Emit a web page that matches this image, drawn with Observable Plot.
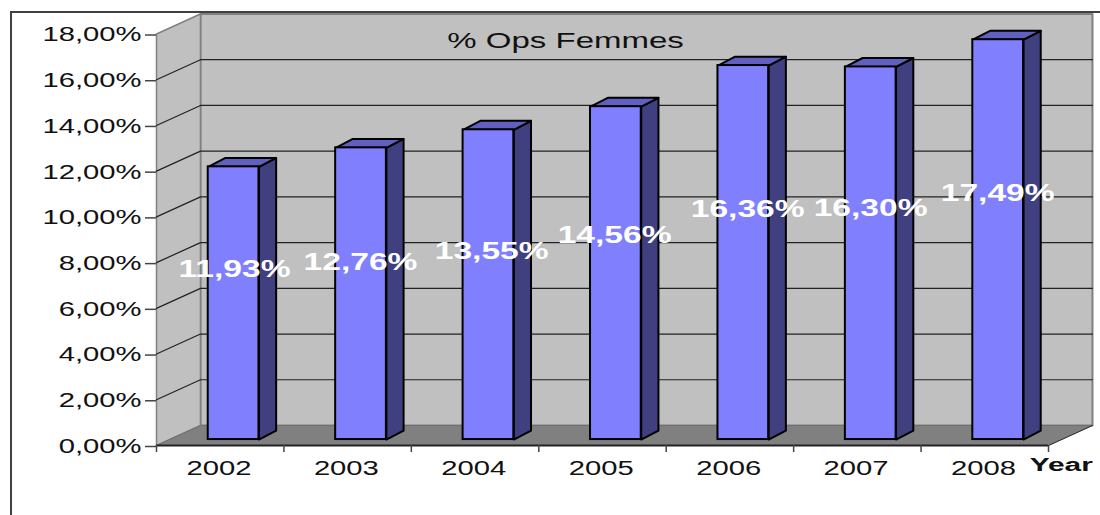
<!DOCTYPE html>
<html>
<head>
<meta charset="utf-8">
<script src="https://cdn.jsdelivr.net/npm/d3@7"></script>
<script src="https://cdn.jsdelivr.net/npm/@observablehq/plot@0.6"></script>
<style>
html,body{margin:0;padding:0;background:#fff;overflow:hidden}
#frame{position:absolute;left:10px;top:11px;right:0;bottom:0;border-left:2px solid #404040;border-top:2px solid #404040}
#chart{position:absolute;left:0;top:0}
#chart svg{background:transparent;display:block}
</style>
</head>
<body>
<div id="frame"></div>
<div id="chart"></div>
<script>
const years = ["2002","2003","2004","2005","2006","2007","2008"];
const values = [11.93,12.76,13.55,14.56,16.36,16.30,17.49];
const valueLabels = ["11,93%","12,76%","13,55%","14,56%","16,36%","16,30%","17,49%"];
const labelX = [0.612,1.601,2.63,3.595,4.639,5.604,6.601];
const labelY = [7.70,8.01,8.49,9.19,10.33,10.37,11.03];
const yTicks = [0,2,4,6,8,10,12,14,16,18];
const xBoundaries = [0,1,2,3,4,5,6,7];

// Depth of the pseudo-3D box, in scale units
const wallDx = 0.345, wallDy = 0.875;
const barLeft = 0.406, barWidth = 0.398, barDx = 0.135, barDy = 0.39, barBase = 0.26;

const poly = (id, pts) => pts.concat([pts[0]]).map(([x, y]) => ({id, x, y}));
const xMax = xBoundaries[xBoundaries.length - 1], yMax = yTicks[yTicks.length - 1];

const leftWall = poly("left", [[0,0],[0,yMax],[wallDx,yMax+wallDy],[wallDx,wallDy]]);
const backWall = poly("back", [[wallDx,wallDy],[wallDx,yMax+wallDy],[xMax+wallDx,yMax+wallDy],[xMax+wallDx,wallDy]]);
const floor = poly("floor", [[0,0],[xMax,0],[xMax+wallDx,wallDy],[wallDx,wallDy]]);
const grid = yTicks.slice(1, -1).flatMap(t => [
  {id:t, x:0, y:t},{id:t, x:wallDx, y:t+wallDy},{id:t, x:xMax+wallDx, y:t+wallDy}
]);

const bars = values.map((v,i) => ({
  x1:i+barLeft, x2:i+barLeft+barWidth, y1:barBase, y2:barBase+v
}));
const sides = bars.flatMap((b,i) => poly("s"+i, [[b.x2,b.y1],[b.x2+barDx,b.y1+barDy],[b.x2+barDx,b.y2+barDy],[b.x2,b.y2]]));
const tops = bars.flatMap((b,i) => poly("t"+i, [[b.x1,b.y2],[b.x2,b.y2],[b.x2+barDx,b.y2+barDy],[b.x1+barDx,b.y2+barDy]]));

const font = "'Liberation Sans', Arial, sans-serif";
const pct = d => d.toFixed(2).replace(".", ",") + "%";

const plot = Plot.plot({
  width: 1100, height: 515,
  marginLeft: 156, marginRight: 52, marginTop: 33.5, marginBottom: 70,
  style: {fontFamily: font, background: "transparent", overflow: "visible"},
  x: {type: "linear", domain: [0, xMax]},
  y: {type: "linear", domain: [0, yMax]},
  marks: [
    Plot.line(backWall, {x:"x", y:"y", z:"id", fill:"#c0c0c0", stroke:"#808080", strokeWidth:2}),
    Plot.line(leftWall, {x:"x", y:"y", z:"id", fill:"#c0c0c0", stroke:"#808080", strokeWidth:1.5}),
    Plot.line(floor, {x:"x", y:"y", z:"id", fill:"#808080", stroke:"#707070", strokeWidth:1}),
    Plot.line(grid, {x:"x", y:"y", z:"id", stroke:"#222", strokeWidth:1.2}),
    Plot.line(sides, {x:"x", y:"y", z:"id", fill:"#404080", stroke:"#000", strokeWidth:2}),
    Plot.line(tops, {x:"x", y:"y", z:"id", fill:"#6060c0", stroke:"#000", strokeWidth:2}),
    Plot.rect(bars, {x1:"x1", x2:"x2", y1:"y1", y2:"y2", fill:"#8080ff", stroke:"#000", strokeWidth:2}),
    Plot.ruleY([0], {x1:0, x2:xMax, stroke:"#222", strokeWidth:2}),
    Plot.line([{x:xMax,y:0},{x:xMax+wallDx,y:wallDy}], {x:"x", y:"y", stroke:"#333", strokeWidth:1}),
    Plot.axisY({ticks:yTicks, tickSize:11, tickPadding:4, tickFormat:pct, fontSize:20, dy:1, label:null, stroke:"#444", fill:"#111", strokeWidth:1.5}),
    Plot.axisX({ticks:xBoundaries, tickSize:7, tickFormat:() => "", label:null, stroke:"#444", strokeWidth:1.5}),
    Plot.text(years, {x:(d,i)=>i+0.49, y:0, dy:23, text:d=>d, fontSize:20, fill:"#111"}),
    Plot.text(["Year"], {x:xMax+0.10, y:0, dy:20, text:d=>d, fontSize:18, fontWeight:"bold", fill:"#111", className:"stretch-year"}),
    Plot.text(["% Ops Femmes"], {x:3.21, y:yMax, dy:7, text:d=>d, fontSize:22.6, fill:"#111"}),
    Plot.text(valueLabels, {x:(d,i)=>labelX[i], y:(d,i)=>labelY[i], text:d=>d, fontSize:23, fontWeight:"bold", fill:"#fff"})
  ]
});
document.getElementById("chart").appendChild(plot);

// The source picture is horizontally stretched: widen glyphs the same way.
d3.select(plot).selectAll("text").each(function() {
  if (!this.textContent) return;
  const k = this.closest(".stretch-year") ? 1.66 : 1.46;
  this.setAttribute("textLength", this.getComputedTextLength() * k);
  this.setAttribute("lengthAdjust", "spacingAndGlyphs");
});
</script>
</body>
</html>
